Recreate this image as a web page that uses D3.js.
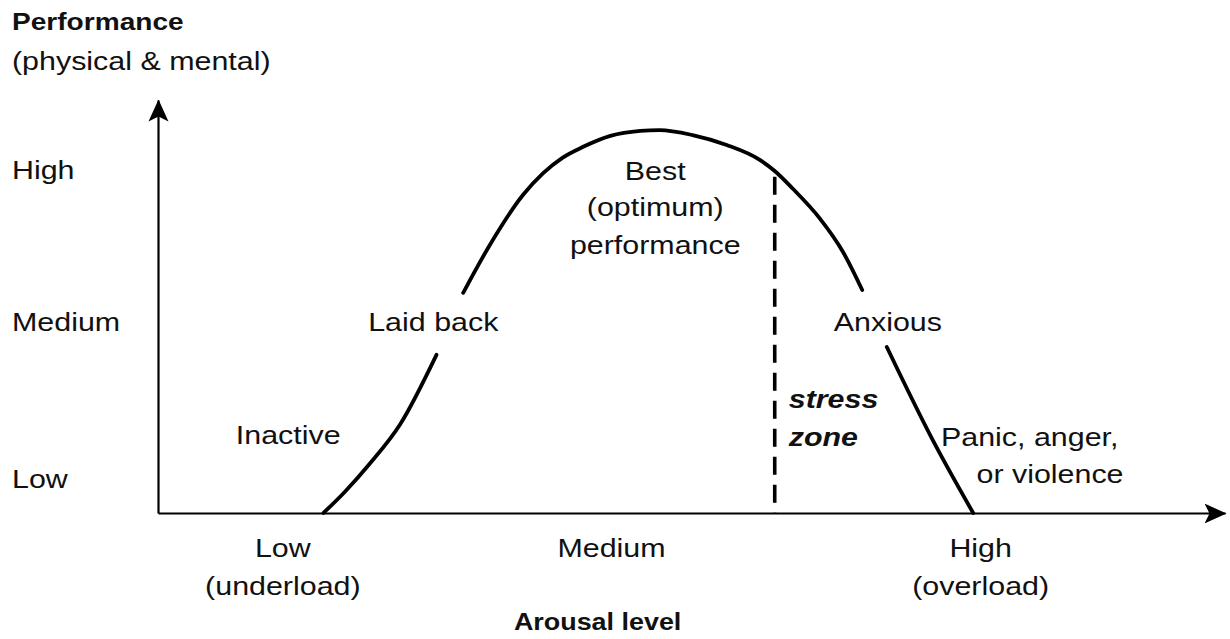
<!DOCTYPE html>
<html>
<head>
<meta charset="utf-8">
<script src="https://cdn.jsdelivr.net/npm/d3@7"></script>
<style>
  html, body { margin: 0; padding: 0; background: #fff; }
  svg { display: block; }
  text { font-family: "Liberation Sans", Arial, Helvetica, sans-serif; fill: #111; }
</style>
</head>
<body>
<svg id="chart"></svg>
<script>
// ── DATA ──────────────────────────────────────────────────────────────────────

// inverted-U curve (arousal 0-100, performance 0-100); null = gap behind a label
const curveArousal = [15.5, 17.5, 19.9, 22.7, 26.1, null,
  28.6, 31.1, 34.2, 36.1, 37.9, 39.8, 42.4, 45.2, 47.0, 50.1, 53.3, 56.4, 57.8, 59.5, 62.0, 64.2, 66.0, null,
  68.3, 72.6, 76.4];
const curvePerf = [0, 5.1, 12.1, 21.5, 38.3, null,
  53.3, 64.9, 77.0, 82.3, 86.0, 88.6, 91.3, 92.5, 92.7, 91.5, 89.1, 85.5, 82.8, 78.5, 71.4, 63.2, 54.0, null,
  40.2, 17.7, 0];

const stressArousal = 57.8;
const stressTop = 81.4;

const yLevels      = ['High', 'Medium', 'Low'];
const yLevelValues = [83, 46.2, 8.3];

const xLevels      = [['Low', '(underload)'], ['Medium'], ['High', '(overload)']];
const xLevelValues = [11.7, 42.5, 77.1];

const zoneLabels = ['Inactive', 'Laid back', 'Best', '(optimum)', 'performance', 'Anxious', 'Panic, anger,', 'or violence'];
const zoneX      = [12.2, 25.8, 46.6, 46.6, 46.6, 68.4, 81.7, 83.6];
const zoneY      = [18.9, 46.2, 82.8, 74.1, 64.9, 46.2, 18.4, 9.4];

const stressLabels = ['stress', 'zone'];
const stressLabelY = [27.6, 18.4];

// ── SETUP ─────────────────────────────────────────────────────────────────────

const W = 1230, H = 639;
const SX = 1.17;   // source art is slightly stretched horizontally

const svg = d3.select('#chart').attr('width', W).attr('height', H);
svg.append('rect').attr('width', W).attr('height', H).attr('fill', '#fff');

const x = d3.scaleLinear().domain([0, 100]).range([158, 1225]);
const y = d3.scaleLinear().domain([0, 100]).range([513, 100]);

const defs = svg.append('defs');
defs.append('marker')
  .attr('id', 'arrow')
  .attr('viewBox', '0 -11 22 22')
  .attr('refX', 21).attr('refY', 0)
  .attr('markerWidth', 22).attr('markerHeight', 22)
  .attr('markerUnits', 'userSpaceOnUse')
  .attr('orient', 'auto')
  .append('path')
  .attr('d', 'M0,-10L22,0L0,10L5,0Z')
  .attr('fill', '#000');

function label(g, txt, px, py, opts = {}) {
  return g.append('text')
    .attr('transform', `translate(${px},${py}) scale(${SX},1)`)
    .attr('text-anchor', opts.anchor || 'middle')
    .attr('dy', '0.35em')
    .attr('font-size', (opts.size || 26) + 'px')
    .attr('font-weight', opts.bold ? 'bold' : null)
    .attr('font-style', opts.italic ? 'italic' : null)
    .text(txt);
}

// ── AXES ──────────────────────────────────────────────────────────────────────

const xAxis = svg.append('g')
  .attr('transform', `translate(0,${y(0)})`)
  .call(d3.axisBottom(x).tickValues([]).tickSizeOuter(0));
xAxis.select('.domain')
  .attr('stroke', '#000').attr('stroke-width', 2.2)
  .attr('marker-end', 'url(#arrow)');

const yAxis = svg.append('g')
  .attr('transform', `translate(${x(0)},0)`)
  .call(d3.axisLeft(y).tickValues([]).tickSizeOuter(0));
yAxis.select('.domain')
  .attr('stroke', '#000').attr('stroke-width', 2.2)
  .attr('marker-end', 'url(#arrow)');

const labels = svg.append('g');

// y level labels
yLevels.forEach((t, i) => label(labels, t, 12, y(yLevelValues[i]), { anchor: 'start' }));

// x level labels (one or two lines)
xLevels.forEach((lines, i) => {
  lines.forEach((t, j) => label(labels, t, x(xLevelValues[i]), y(0) + 35 + j * 38));
});

// axis titles
label(labels, 'Performance', 12, 22, { anchor: 'start', bold: true, size: 24 });
label(labels, '(physical & mental)', 12, 61, { anchor: 'start' });
label(labels, 'Arousal level', x(41.2), y(0) + 109, { bold: true, size: 23 });

// ── CURVE ─────────────────────────────────────────────────────────────────────

const pts = curveArousal.map((a, i) => ({ a, p: curvePerf[i] }));

const line = d3.line()
  .defined(d => d.a != null)
  .x(d => x(d.a))
  .y(d => y(d.p))
  .curve(d3.curveMonotoneX);

svg.append('path')
  .datum(pts)
  .attr('d', line)
  .attr('fill', 'none')
  .attr('stroke', '#000')
  .attr('stroke-width', 3.8)
  .attr('stroke-linecap', 'round');

// stress zone boundary
svg.append('line')
  .attr('x1', x(stressArousal)).attr('x2', x(stressArousal))
  .attr('y1', y(stressTop)).attr('y2', y(0))
  .attr('stroke', '#000')
  .attr('stroke-width', 3.6)
  .attr('stroke-dasharray', '18 10');

// zone labels
zoneLabels.forEach((t, i) => label(labels, t, x(zoneX[i]), y(zoneY[i])));
stressLabels.forEach((t, i) => label(labels, t, x(stressArousal) + 14, y(stressLabelY[i]),
  { anchor: 'start', bold: true, italic: true }));
</script>
</body>
</html>
